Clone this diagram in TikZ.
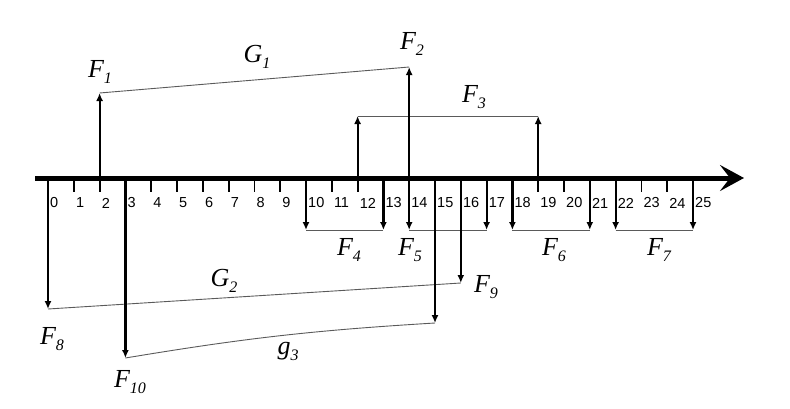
\documentclass[tikz,border=0pt]{standalone}
\usepackage{fontspec}
\setmainfont{Liberation Serif}
\setsansfont{Liberation Sans}
\usepackage{tikz}
\usetikzlibrary{arrows.meta, calc}
\definecolor{linkgray}{HTML}{5A5A5A}

\newcommand{\flab}[2]{#1\raisebox{-0.5ex}{\fontsize{16}{16}\selectfont #2}}

\begin{document}
\begin{tikzpicture}[
  x=1pt, y=-1pt,
  axisline/.style={line width=5pt, -{Stealth[length=24pt, width=26pt, inset=10pt]}},
  tickmark/.style={line width=1.8pt},
  ticklabel/.style={anchor=west, inner sep=0pt, font=\sffamily\fontsize{14.5}{14.5}\selectfont},
  force/.style={line width=2.2pt, -{Latex[length=8pt, width=7pt]}},
  link/.style={draw=linkgray, line width=0.9pt},
  flabel/.style={inner sep=0pt, font=\itshape\fontsize{26}{26}\selectfont},
]
\useasboundingbox (0,0) rectangle (790,408);

% ---- axis with ticks ----
\foreach \i in {0,...,25} {
  \coordinate (a\i) at ({48+25.8*\i},178);
  \draw[tickmark] (a\i) -- ++(0,14);
  \node[ticklabel] (n\i) at ($(a\i)+(2,25)$) {\i};
}
\coordinate (ax0) at (35,178);
\coordinate (ax1) at (744,178);
\draw[axisline] (ax0) -- (ax1);

% ---- upward forces ----
\coordinate (f1) at (a2 |- 0,93);
\coordinate (f2) at (a14 |- 0,67);
\coordinate (f3a) at (a12 |- 0,116);
\coordinate (f3b) at (a19 |- 0,116);
\draw[link] (f1) -- (f2);
\draw[link] (f3a) -- (f3b);
\draw[force] (a2) -- (f1);
\draw[force] (a14) -- (f2);
\draw[force] (a12) -- (f3a);
\draw[force] (a19) -- (f3b);
\node[flabel] (l1) at (100,72) {\flab{F}{1}};
\node[flabel] (lg1) at (257,57) {\flab{G}{1}};
\node[flabel] (l2) at (412,44) {\flab{F}{2}};
\node[flabel] (l3) at (474,97) {\flab{F}{3}};

% ---- short downward pairs ----
\foreach \p/\l/\r in {4/10/13, 5/14/17, 6/18/21, 7/22/25} {
  \coordinate (f\p a) at (a\l |- 0,230);
  \coordinate (f\p b) at (a\r |- 0,230);
  \draw[link] (f\p a) -- (f\p b);
  \draw[force] (a\l) -- (f\p a);
  \draw[force] (a\r) -- (f\p b);
}
\node[flabel] (l4) at (349,250) {\flab{F}{4}};
\node[flabel] (l5) at (410,250) {\flab{F}{5}};
\node[flabel] (l6) at (554,250) {\flab{F}{6}};
\node[flabel] (l7) at (659,250) {\flab{F}{7}};

% ---- long downward forces ----
\coordinate (f8) at (a0 |- 0,309);
\coordinate (f9) at (a16 |- 0,283);
\coordinate (f10) at (a3 |- 0,358);
\coordinate (f11) at (a15 |- 0,323);
\draw[link] (f8) -- (f9);
\draw[link] (f10) to[bend left=3] (f11);
\draw[force] (a0) -- (f8);
\draw[force] (a16) -- (f9);
\draw[force] (a3) -- (f10);
\draw[force] (a15) -- (f11);
\node[flabel] (l8) at (52,339) {\flab{F}{8}};
\node[flabel] (l9) at (486,287) {\flab{F}{9}};
\node[flabel] (l10) at (130,382) {\flab{F}{10}};
\node[flabel] (lg2) at (224,281) {\flab{G}{2}};
\node[flabel] (lg3) at (288,351) {\flab{g}{3}};

\end{tikzpicture}
\end{document}
